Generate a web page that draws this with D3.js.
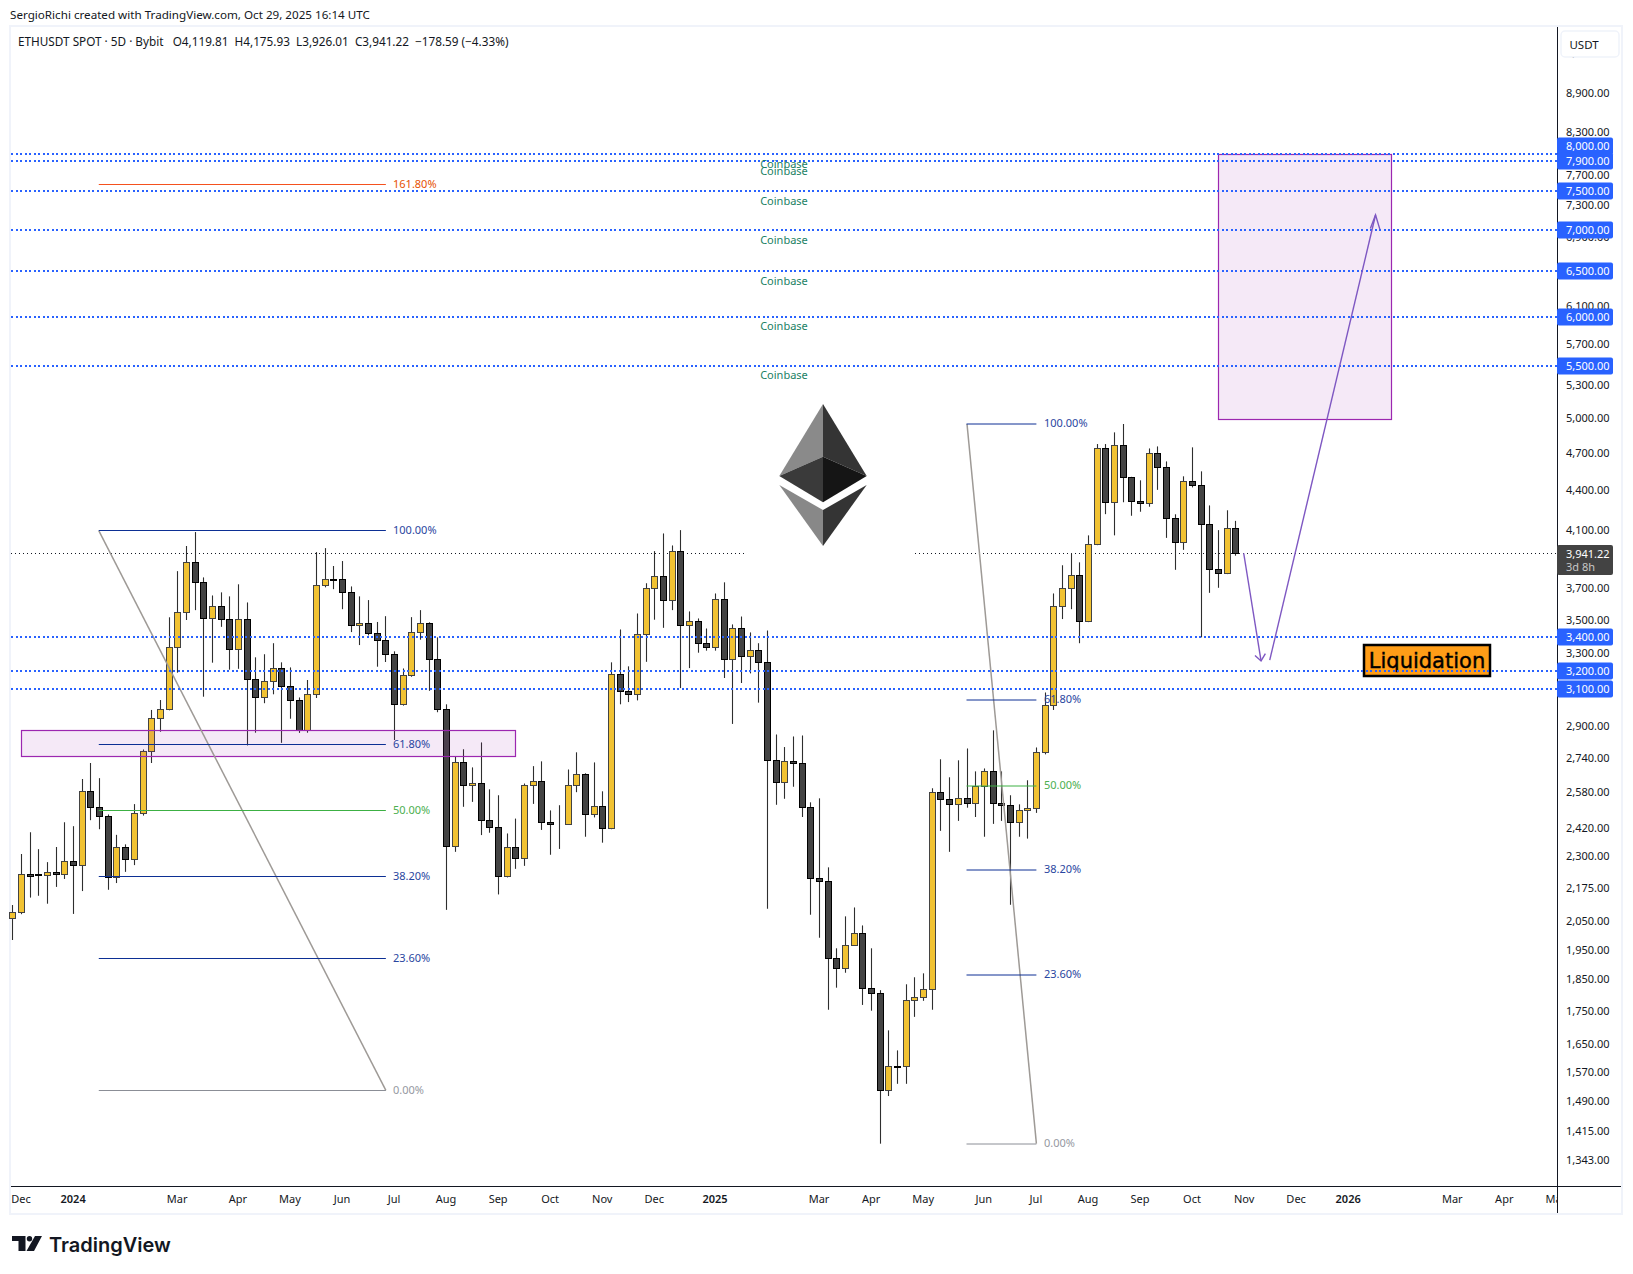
<!DOCTYPE html>
<html>
<head>
<meta charset="utf-8">
<title>ETHUSDT</title>
<script src="https://cdn.jsdelivr.net/npm/d3@7"></script>
<style>
  html, body { margin: 0; padding: 0; background: #fff; }
  svg { display: block; }
  text { font-family: "Noto Sans", "Open Sans", sans-serif; }
</style>
</head>
<body>
<svg id="chart" width="1633" height="1274"></svg>
<script>
// 5D candles
const opens = [2064,2086,2232,2230,2228,2240,2232,2284,2268,2586,2513,2473,2220,2341,2292,2486,2776,2943,2991,3338,3551,3880,3745,3513,3589,3507,3326,3507,3154,3054,3143,3215,3115,3038,2883,3071,3725,3767,3765,3679,3470,3482,3421,3379,3297,3017,3176,3427,3482,3267,2991,2346,2722,2614,2622,2456,2426,2224,2341,2296,2614,2632,2447,2440,2439,2614,2665,2482,2518,2421,3182,3087,3071,3415,3705,3785,3627,3956,3470,3495,3362,3338,3633,3267,3451,3285,3320,3250,2732,2627,2727,2717,2513,2216,2204,1924,1890,1968,2010,1824,1808,1522,1589,1588,1785,1795,1820,2581,2549,2527,2554,2531,2609,2679,2531,2523,2447,2500,2509,2771,3012,3589,3705,3791,3495,4006,4748,4316,4774,4511,4323,4308,4706,4590,4195,4020,4479,4447,4151,3832,3805,4119.81];
const highs = [2114,2314,2405,2334,2281,2343,2448,2431,2643,2719,2647,2482,2394,2354,2528,2785,2987,3040,3520,3820,3994,4094,3778,3659,3679,3653,3732,3614,3279,3297,3362,3250,3221,3054,3150,3951,3979,3855,3889,3718,3653,3629,3491,3527,3314,3215,3521,3565,3489,3397,3017,2751,2786,2698,2820,2595,2568,2400,2464,2622,2704,2727,2500,2523,2688,2771,2670,2722,2586,3250,3445,3227,3544,3739,3958,4084,3998,4108,3557,3513,3451,3672,3745,3476,3525,3427,3362,3439,2860,2797,2850,2855,2536,2554,2260,1958,2072,2105,2039,1958,1818,1693,1634,1837,1860,1873,2600,2737,2651,2732,2790,2679,2693,2881,2679,2568,2527,2637,2795,3081,3672,3860,3942,3880,4070,4785,4785,4885,4958,4515,4487,4748,4765,4640,4225,4519,4757,4559,4292,4108,4255,4175.93];
const lows = [1987,2080,2142,2149,2119,2183,2214,2081,2167,2457,2418,2172,2198,2242,2269,2477,2719,2874,2985,3191,3503,3565,3058,3248,3461,3208,3213,2805,2869,3023,3071,2818,2941,2868,2869,3051,3712,3700,3571,3429,3351,3409,3225,3252,2832,3010,3168,3383,3090,2975,2096,2323,2516,2538,2393,2403,2154,2220,2254,2266,2529,2415,2311,2335,2436,2582,2386,2469,2361,2418,3017,3029,3038,3253,3505,3455,3565,3105,3217,3306,3318,3318,3161,2914,3133,3187,3026,2100,2525,2552,2607,2471,2078,1995,1756,1826,1875,1966,1771,1753,1385,1507,1540,1540,1734,1784,1756,2411,2323,2454,2512,2471,2386,2441,2454,2115,2386,2378,2489,2761,2987,3509,3571,3362,3490,4000,4226,4070,4316,4214,4244,4282,4412,4052,3829,3967,4431,3397,3676,3709,3800,3926.01];
const closes = [2085,2232,2224,2226,2240,2232,2284,2268,2586,2513,2473,2220,2341,2292,2486,2776,2943,2991,3338,3551,3880,3745,3513,3589,3507,3326,3507,3154,3054,3143,3215,3115,3038,2883,3071,3725,3765,3763,3679,3470,3482,3421,3379,3297,3017,3176,3427,3482,3267,2991,2346,2722,2614,2622,2456,2426,2224,2341,2296,2614,2632,2447,2439,2438,2614,2665,2482,2518,2421,3182,3087,3071,3415,3705,3785,3627,3956,3470,3495,3362,3338,3633,3267,3451,3285,3320,3250,2732,2627,2727,2717,2513,2216,2204,1924,1890,1968,2010,1824,1808,1522,1588,1587,1785,1795,1820,2581,2549,2527,2554,2531,2609,2679,2531,2523,2447,2500,2509,2771,3012,3589,3705,3791,3495,4006,4748,4316,4774,4511,4323,4308,4706,4590,4195,4020,4479,4447,4151,3832,3805,4120,3941.22];

const lastPrice = 3941.22;
const priceTicks = [9550,8900,8300,7700,7300,6900,6100,5700,5300,5000,4700,4400,4100,3700,3500,3300,2900,2740,2580,2420,2300,2175,2050,1950,1850,1750,1650,1570,1490,1415,1343];
const levels = [8000,7900,7500,7000,6500,6000,5500,3400,3200,3100];
const coinbaseLevels = [8000,7900,7500,7000,6500,6000,5500];

const timeLabels = ['Dec','2024','Mar','Apr','May','Jun','Jul','Aug','Sep','Oct','Nov','Dec','2025','Mar','Apr','May','Jun','Jul','Aug','Sep','Oct','Nov','Dec','2026','Mar','Apr','May'];
const timeBars = [1,7,19,26,32,38,44,50,56,62,68,74,81,93,99,105,112,118,124,130,136,142,148,154,166,172,178];

const fibNames = ['161.80%','100.00%','61.80%','50.00%','38.20%','23.60%','0.00%'];
const fibColors = ['#f4511e','#0c2f94','#0c2f94','#3cb043','#0c2f94','#0c2f94','#8b8e96'];
const fibText = ['#e65100','#2a46a0','#2a46a0','#4caf50','#2a46a0','#2a46a0','#9598a1'];
const fibA = [7580,4104,2810,2500,2224,1924,1522];
const fibB = [null,4958,3044,2615,2252,1869,1385];

const svg = d3.select('#chart');
const x = d3.scaleLinear().domain([0, 141]).range([12.9, 1235.9]);
const y = d3.scaleLog().domain([3100, 8000]).range([689, 154]);
const snap = v => Math.floor(v) + 0.5;
const fmt = d3.format(',.2f');

// frame
svg.append('rect').attr('x', 10).attr('y', 26).attr('width', 1612).attr('height', 1188)
  .attr('fill', 'none').attr('stroke', '#f0f3fa').attr('stroke-width', 2);

svg.append('text').attr('x', 10).attr('y', 19).attr('font-size', 11.65).attr('fill', '#131722')
  .text('SergioRichi created with TradingView.com, Oct 29, 2025 16:14 UTC');
svg.append('text').attr('x', 18).attr('y', 46).attr('font-size', 11.75).attr('fill', '#131722')
  .style('white-space', 'pre')
  .text('ETHUSDT SPOT · 5D · Bybit   O4,119.81  H4,175.93  L3,926.01  C3,941.22  −178.59 (−4.33%)');

// last price line
svg.append('line').attr('x1', 11).attr('x2', 1557).attr('y1', snap(y(lastPrice))).attr('y2', snap(y(lastPrice)))
  .attr('stroke', '#131722').attr('stroke-dasharray', '1 3');

// logo sits on a white block which hides the last price line
const logo = svg.append('g');
logo.append('rect').attr('x', 744).attr('y', 400).attr('width', 168).attr('height', 160).attr('fill', '#fff');
const logoFaces = [
  ['#8a8a8a', '823,404 779.3,476 823,456.7'],
  ['#343434', '823,404 866.7,476 823,456.7'],
  ['#3a3a3a', '779.3,476 823,456.7 823,502.3'],
  ['#151515', '866.7,476 823,456.7 823,502.3'],
  ['#888888', '779.3,485 823,510 823,546'],
  ['#343434', '866.7,485 823,510 823,546']
];
logo.selectAll('polygon').data(logoFaces).enter().append('polygon')
  .attr('fill', d => d[0]).attr('points', d => d[1]);

// candles
const candles = d3.range(opens.length).map(i => ({ i: i, o: opens[i], h: highs[i], l: lows[i], c: closes[i] }));
const bars = svg.append('g').selectAll('g').data(candles).enter().append('g');
bars.append('line')
  .attr('x1', d => snap(x(d.i))).attr('x2', d => snap(x(d.i)))
  .attr('y1', d => y(d.h)).attr('y2', d => y(d.l))
  .attr('stroke', '#2e2e2e').attr('stroke-width', 1.1);
bars.append('rect')
  .attr('x', d => snap(x(d.i)) - 3).attr('width', 6)
  .attr('y', d => snap(y(Math.max(d.o, d.c))))
  .attr('height', d => Math.round(Math.abs(y(d.o) - y(d.c))))
  .attr('fill', d => d.c >= d.o ? '#f1c232' : '#434343')
  .attr('stroke', d => d.c >= d.o ? '#434343' : '#000')
  .attr('stroke-width', 1);

// purple boxes
const boxes = [[1, 58, 2881, 2750], [139, 159, 8000, 5000]];
svg.append('g').selectAll('rect').data(boxes).enter().append('rect')
  .attr('x', d => snap(x(d[0]))).attr('width', d => Math.round(x(d[1]) - x(d[0])))
  .attr('y', d => snap(y(d[2]))).attr('height', d => Math.round(y(d[3]) - y(d[2])))
  .attr('fill', 'rgba(156,39,176,0.1)').attr('stroke', '#9c27b0').attr('stroke-width', 1.2);

// fib A
const fibsA = d3.range(fibA.length).map(i => ({ p: fibA[i], name: fibNames[i], col: fibColors[i], txt: fibText[i] }));
const gA = svg.append('g');
gA.append('line').attr('x1', x(9.9)).attr('y1', y(4104)).attr('x2', x(43)).attr('y2', y(1522))
  .attr('stroke', '#9e9a96').attr('stroke-width', 1.5);
gA.selectAll('line.f').data(fibsA).enter().append('line').attr('class', 'f')
  .attr('x1', x(9.9)).attr('x2', x(43)).attr('y1', d => snap(y(d.p))).attr('y2', d => snap(y(d.p)))
  .attr('stroke', d => d.col).attr('stroke-width', 1);
gA.selectAll('text').data(fibsA).enter().append('text')
  .attr('x', 393).attr('y', d => y(d.p) + 3.5).attr('font-size', 11).attr('fill', d => d.txt).text(d => d.name);

// fib B
const fibsB = d3.range(fibB.length).filter(i => fibB[i]).map(i => ({ p: fibB[i], name: fibNames[i], col: fibColors[i], txt: fibText[i] }));
const gB = svg.append('g');
gB.append('line').attr('x1', x(110)).attr('y1', y(4958)).attr('x2', x(118)).attr('y2', y(1385))
  .attr('stroke', '#9e9a96').attr('stroke-width', 1.5);
gB.selectAll('line.f').data(fibsB).enter().append('line').attr('class', 'f')
  .attr('x1', x(110) - 0.5).attr('x2', x(118)).attr('y1', d => snap(y(d.p)) + 0.5).attr('y2', d => snap(y(d.p)) + 0.5)
  .attr('stroke', d => d.col).attr('stroke-width', 1);
gB.selectAll('text').data(fibsB).enter().append('text')
  .attr('x', 1044).attr('y', d => y(d.p) + 3.5).attr('font-size', 11).attr('fill', d => d.txt).text(d => d.name);

// liquidation tag goes under the dotted levels
const tag = svg.append('g');
tag.append('rect').attr('x', 1364).attr('y', 645).attr('width', 126).attr('height', 31)
  .attr('fill', '#ff9d17').attr('stroke', '#000').attr('stroke-width', 2.5);
tag.append('text').attr('x', 1427).attr('y', 668).attr('text-anchor', 'middle')
  .attr('font-size', 21).attr('fill', '#000').attr('stroke', '#000').attr('stroke-width', 0.4)
  .style('font-family', '"DejaVu Sans", sans-serif').text('Liquidation');

// dotted levels
svg.append('g').selectAll('line').data(levels).enter().append('line')
  .attr('x1', 11).attr('x2', 1557)
  .attr('y1', d => Math.round(y(d) + 0.2)).attr('y2', d => Math.round(y(d) + 0.2))
  .attr('stroke', '#2962ff').attr('stroke-width', 2).attr('stroke-dasharray', '2 2.5')
  .attr('shape-rendering', 'crispEdges');

svg.append('g').selectAll('text').data(coinbaseLevels).enter().append('text')
  .attr('x', 784).attr('y', d => y(d) + (d === 7500 || d === 7000 ? 15 : 14)).attr('text-anchor', 'middle')
  .attr('font-size', 11).attr('fill', '#1a7f64').text('Coinbase');

// arrows
const arrows = [
  { a: [141.9, 3943], b: [143.9, 3258], w1: [143.2, 3290], w2: [144.4, 3300] },
  { a: [144.9, 3263], b: [157.1, 7180], w1: [156.5, 7010], w2: [157.6, 7000] }
];
const arrowG = svg.append('g').attr('stroke', '#7e57c2').attr('stroke-width', 1.4).attr('fill', 'none');
const pt = p => [x(p[0]), y(p[1])];
const lineGen = d3.line();
arrows.forEach(d => {
  arrowG.append('path').attr('d', lineGen([pt(d.a), pt(d.b)]));
  arrowG.append('path').attr('d', lineGen([pt(d.w1), pt(d.b), pt(d.w2)]));
});

// axis lines
svg.append('line').attr('x1', 11).attr('x2', 1621).attr('y1', 1186.5).attr('y2', 1186.5).attr('stroke', '#131722');
svg.append('line').attr('x1', 1557.5).attr('x2', 1557.5).attr('y1', 27).attr('y2', 1213).attr('stroke', '#131722');

// price axis
const yAxis = svg.append('g').attr('transform', 'translate(1557,-1)')
  .call(d3.axisRight(y).tickValues(priceTicks).tickFormat(fmt).tickSize(0).tickPadding(9));
yAxis.select('.domain').remove();
yAxis.selectAll('text').attr('font-size', 11).attr('fill', '#131722').style('font-family', '"Noto Sans", sans-serif');

// time axis, clipped at the price axis
svg.append('clipPath').attr('id', 'timeClip').append('rect').attr('x', 11).attr('y', 1187).attr('width', 1546).attr('height', 26);
const xAxis = svg.append('g').attr('clip-path', 'url(#timeClip)').append('g').attr('transform', 'translate(-1,1186)')
  .call(d3.axisBottom(x).tickValues(timeBars).tickFormat((d, i) => timeLabels[i]).tickSize(0).tickPadding(9));
xAxis.select('.domain').remove();
xAxis.selectAll('text').attr('font-size', 11).attr('fill', '#131722')
  .attr('font-weight', (d, i) => /^\d/.test(timeLabels[i]) ? 600 : 400)
  .style('font-family', '"Noto Sans", sans-serif');

// USDT button
svg.append('rect').attr('x', 1561).attr('y', 31).attr('width', 58).attr('height', 26).attr('rx', 4)
  .attr('fill', '#fff').attr('stroke', '#f0f3fa').attr('stroke-width', 1.5);
svg.append('text').attr('x', 1584).attr('y', 49).attr('text-anchor', 'middle').attr('font-size', 11.5).attr('fill', '#131722').text('USDT');

// level tags on the axis
const tagShift = d => d === 8000 ? -8 : 0;
const tags = svg.append('g').selectAll('g').data(levels).enter().append('g')
  .attr('transform', d => 'translate(1557,' + Math.round(y(d) + 0.2 + tagShift(d)) + ')');
tags.append('rect').attr('y', -8.5).attr('width', 56).attr('height', 17).attr('rx', 2).attr('fill', '#2962ff');
tags.append('text').attr('x', 9).attr('y', 4).attr('font-size', 11).attr('fill', '#fff').text(d => fmt(d));

// last price tag
const lastTag = svg.append('g').attr('transform', 'translate(1557,' + y(lastPrice) + ')');
lastTag.append('rect').attr('y', -8.5).attr('width', 56).attr('height', 30).attr('rx', 2).attr('fill', '#434343');
lastTag.append('text').attr('x', 9).attr('y', 4).attr('font-size', 11).attr('fill', '#fff').text(fmt(lastPrice));
lastTag.append('text').attr('x', 9).attr('y', 17).attr('font-size', 11).attr('fill', '#c8c8c8').text('3d 8h');

// TradingView mark
const mark = svg.append('g').attr('fill', '#131722');
mark.append('path').attr('d', 'M12 1236H25.5V1251H18.5V1241H12Z');
mark.append('circle').attr('cx', 29.5).attr('cy', 1238.7).attr('r', 2.7);
mark.append('path').attr('d', 'M35 1236H42L34 1251H26.5Z');
svg.append('text').attr('x', 49).attr('y', 1252).attr('font-size', 20).attr('font-weight', 600)
  .attr('fill', '#131722').style('font-family', 'Inter, sans-serif').text('TradingView');
</script>
</body>
</html>
